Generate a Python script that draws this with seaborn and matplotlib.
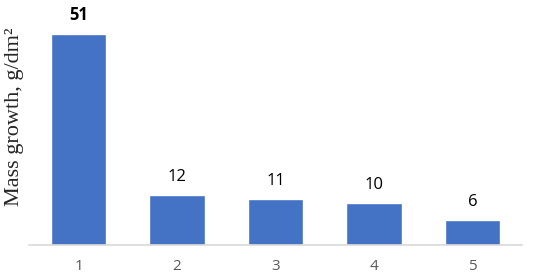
import pandas as pd
import matplotlib.pyplot as plt
import seaborn as sns

# sample number and mass growth values
samples = ['1', '2', '3', '4', '5']
mass_growth = [51, 12, 11, 10, 6]

df = pd.DataFrame({'sample': samples, 'growth': mass_growth})

sns.set_theme(style='white')
plt.rcParams['font.family'] = ['Open Sans', 'DejaVu Sans']

fig = plt.figure(figsize=(5.5, 2.79), dpi=100)
# axes placed to match the reference layout (pixels -> figure fraction)
ax = fig.add_axes([29.3 / 550, (279 - 244.7) / 279, 492.4 / 550, 234.7 / 279])

sns.barplot(data=df, x='sample', y='growth', ax=ax, color='#4472C4',
            width=0.56, saturation=1)

ax.set_xlim(-0.5, 4.5)
ax.set_ylim(0, 56.7)

# data labels above bars, first one bold
for i, v in enumerate(mass_growth):
    ax.text(i, v + 4.4, str(v), ha='center', va='center', fontsize=12,
            color='black', fontweight='bold' if i == 0 else 'normal',
            clip_on=False)

for side in ['top', 'right', 'left']:
    ax.spines[side].set_visible(False)
ax.spines['bottom'].set_color('#D9D9D9')
ax.spines['bottom'].set_linewidth(1.2)

ax.set_yticks([])
ax.tick_params(axis='x', length=0, labelsize=11, labelcolor='#595959', pad=10)
ax.set_xlabel('')
ax.set_ylabel('')
fig.text(15 / 550, 1 - 117 / 279, 'Mass growth, g/dm²', rotation=90,
         ha='center', va='center', fontsize=16, family='Liberation Serif')

plt.savefig('out.png', dpi=100)
